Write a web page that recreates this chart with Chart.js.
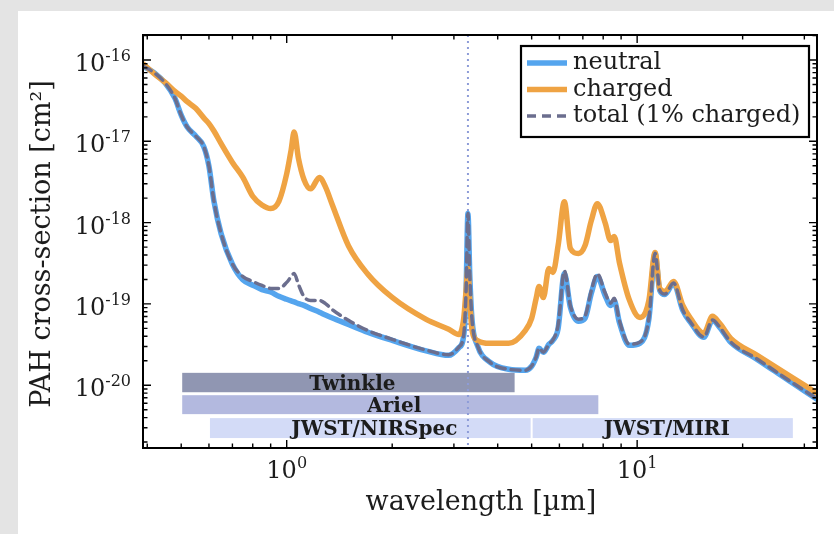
<!DOCTYPE html>
<html>
<head>
<meta charset="utf-8">
<title>PAH cross-section</title>
<script src="https://cdn.jsdelivr.net/npm/chart.js@4.4.1/dist/chart.umd.min.js"></script>
<style>
  html, body { margin: 0; padding: 0; background: #e4e4e4; }
  canvas { display: block; }
</style>
</head>
<body>
<canvas id="pahChart" width="834" height="534"></canvas>
<script>
// wavelength grid [um]
const wavelength = [
  0.39, 0.42, 0.45, 0.48, 0.50, 0.52, 0.55, 0.58, 0.60, 0.62,
  0.65, 0.70, 0.75, 0.80, 0.85, 0.90, 0.95, 1.00, 1.03, 1.05,
  1.08, 1.12, 1.17, 1.24, 1.29, 1.35, 1.5, 1.7, 2.0, 2.5,
  2.9, 3.1, 3.2, 3.25, 3.29, 3.33, 3.38, 3.5, 3.8, 4.3,
  4.8, 5.0, 5.15, 5.25, 5.4, 5.6, 5.75, 5.95, 6.2, 6.45,
  6.8, 7.1, 7.4, 7.7, 8.1, 8.4, 8.6, 8.9, 9.5, 10.2,
  10.8, 11.25, 11.6, 12.0, 12.7, 13.5, 14.2, 15.5, 16.4, 17.2,
  18.5, 22, 27, 32.6
];

// cross-sections [cm^2]
const neutral = [
  8.4e-17, 6.9e-17, 5.2e-17, 3.37e-17, 2.1e-17, 1.5e-17, 1.16e-17, 8.6e-18, 4.95e-18, 1.83e-18,
  7.3e-19, 3.08e-19, 1.98e-19, 1.7e-19, 1.5e-19, 1.4e-19, 1.24e-19, 1.14e-19, 1.09e-19, 1.06e-19,
  1.01e-19, 9.6e-20, 8.8e-20, 7.9e-20, 7.3e-20, 6.7e-20, 5.6e-20, 4.5e-20, 3.56e-20, 2.65e-20,
  2.33e-20, 2.9e-20, 4.11e-20, 1.47e-19, 1.29e-18, 2.24e-19, 6.28e-20, 3.1e-20, 1.92e-20, 1.57e-20,
  1.53e-20, 1.71e-20, 2.21e-20, 2.84e-20, 2.54e-20, 3.18e-20, 3.56e-20, 5.0e-20, 2.37e-19, 9.06e-20,
  6.1e-20, 6.64e-20, 1.35e-19, 2.17e-19, 1.27e-19, 9.59e-20, 1.1e-19, 5.9e-20, 3.1e-20, 3.3e-20,
  6.5e-20, 4.17e-19, 1.47e-19, 1.31e-19, 1.79e-19, 8.3e-20, 5.93e-20, 3.88e-20, 6.28e-20, 5.15e-20,
  3.37e-20, 2.08e-20, 1.15e-20, 6.73e-21
];

const charged = [
  8.9e-17, 6.7e-17, 5.3e-17, 4.1e-17, 3.6e-17, 3.07e-17, 2.55e-17, 1.94e-17, 1.65e-17, 1.34e-17,
  9.35e-18, 5.5e-18, 3.6e-18, 2.11e-18, 1.65e-18, 1.49e-18, 1.83e-18, 3.99e-18, 7.9e-18, 1.3e-17,
  6.2e-18, 3.4e-18, 2.6e-18, 3.6e-18, 2.75e-18, 1.65e-18, 5.2e-19, 2.35e-19, 1.2e-19, 6.45e-20,
  4.87e-20, 4.2e-20, 6.64e-20, 1.47e-19, 2.73e-19, 1.1e-19, 4.73e-20, 3.56e-20, 3.28e-20, 3.28e-20,
  4.73e-20, 6.64e-20, 1.17e-19, 1.64e-19, 1.2e-19, 2.73e-19, 2.44e-19, 5.22e-19, 1.81e-18, 4.8e-19,
  4.17e-19, 5.22e-19, 1.06e-18, 1.71e-18, 1.0e-18, 6.01e-19, 6.73e-19, 3.23e-19, 1.12e-19, 6.83e-20,
  1.1e-19, 4.29e-19, 1.55e-19, 1.42e-19, 1.89e-19, 9.59e-20, 6.64e-20, 4.35e-20, 7.03e-20, 5.77e-20,
  3.77e-20, 2.33e-20, 1.33e-20, 7.98e-21
];

const total = [
  8.4e-17, 6.9e-17, 5.2e-17, 3.37e-17, 2.1e-17, 1.5e-17, 1.16e-17, 8.6e-18, 4.95e-18, 1.83e-18,
  7.3e-19, 3.1e-19, 2.17e-19, 1.89e-19, 1.69e-19, 1.55e-19, 1.55e-19, 1.84e-19, 2.17e-19, 2.37e-19,
  1.74e-19, 1.23e-19, 1.1e-19, 1.1e-19, 1.01e-19, 8.5e-20, 6.28e-20, 4.73e-20, 3.67e-20, 2.7e-20,
  2.37e-20, 2.95e-20, 4.2e-20, 1.48e-19, 1.29e-18, 2.25e-19, 6.3e-20, 3.1e-20, 1.92e-20, 1.57e-20,
  1.53e-20, 1.72e-20, 2.22e-20, 2.86e-20, 2.55e-20, 3.2e-20, 3.6e-20, 5.5e-20, 2.55e-19, 9.5e-20,
  6.5e-20, 7.1e-20, 1.46e-19, 2.34e-19, 1.37e-19, 1.02e-19, 1.17e-19, 6.2e-20, 3.2e-20, 3.4e-20,
  6.6e-20, 4.2e-19, 1.48e-19, 1.32e-19, 1.81e-19, 8.4e-20, 6.0e-20, 3.92e-20, 6.35e-20, 5.2e-20,
  3.4e-20, 2.1e-20, 1.16e-20, 6.8e-21
];

const seriesNames = ['neutral', 'charged', 'total (1% charged)'];

// instrument coverage [um] and vertical extent [cm^2]
const bandNames = ['Twinkle', 'Ariel', 'JWST/NIRSpec', 'JWST/MIRI'];
const bandStart = [0.5, 0.5, 0.6, 5.0];
const bandEnd = [4.5, 7.8, 5.0, 28];
const bandTop = [1.42e-20, 7.54e-21, 3.94e-21, 3.94e-21];
const bandBottom = [8.2e-21, 4.41e-21, 2.24e-21, 2.24e-21];

const featureLine = 3.29; // 3.3 um band marker

const xTickValues = [1, 10];
const xTickExp = ['0', '1'];
const yTickValues = [1e-20, 1e-19, 1e-18, 1e-17, 1e-16];
const yTickExp = ['-20', '-19', '-18', '-17', '-16'];

const COLORS = {
    neutral: '#55a5ee',
    charged: '#efa343',
    total: '#6b6e8e',
    bands: ['#9096b2', '#b3b9df', '#d3dbf7', '#d3dbf7'],
    marker: '#8e9cd8',
    text: '#1c1c1c'
};
const FONT = '"DejaVu Serif", serif';

function toPoints(values) {
    return wavelength.map((w, i) => ({ x: w, y: values[i] }));
}

function drawPower(ctx, exp, px, baseline, align) {
    ctx.font = '24px ' + FONT;
    const wb = ctx.measureText('10').width;
    ctx.font = '16px ' + FONT;
    const we = ctx.measureText(exp).width;
    const x0 = align === 'right' ? px - wb - we : px - (wb + we) / 2;
    ctx.textAlign = 'left';
    ctx.textBaseline = 'alphabetic';
    ctx.font = '24px ' + FONT;
    ctx.fillText('10', x0, baseline);
    ctx.font = '16px ' + FONT;
    ctx.fillText(exp, x0 + wb, baseline - 10);
}

const figurePlugin = {
    id: 'figure',
    beforeDraw(chart) {
        const ctx = chart.ctx;
        ctx.save();
        ctx.fillStyle = '#e4e4e4';
        ctx.fillRect(0, 0, chart.width, chart.height);
        ctx.fillStyle = '#ffffff';
        ctx.fillRect(18, 11, chart.width - 18, chart.height - 11);
        ctx.restore();
    },
    beforeDatasetsDraw(chart) {
        const { ctx, chartArea: a, scales: { x, y } } = chart;
        ctx.save();
        // instrument bands
        bandNames.forEach((name, i) => {
            const x0 = x.getPixelForValue(bandStart[i]) + 1;
            const x1 = x.getPixelForValue(bandEnd[i]) - 1;
            const y0 = y.getPixelForValue(bandTop[i]);
            const y1 = y.getPixelForValue(bandBottom[i]);
            ctx.fillStyle = COLORS.bands[i];
            ctx.fillRect(x0, y0, x1 - x0, y1 - y0);
            ctx.fillStyle = COLORS.text;
            ctx.font = 'bold 20px ' + FONT;
            ctx.textAlign = 'center';
            ctx.textBaseline = 'alphabetic';
            ctx.fillText(name, (x0 + x1) / 2 + 4, (y0 + y1) / 2 + 7);
        });
        // dotted marker at 3.3 um
        const xm = x.getPixelForValue(featureLine);
        ctx.strokeStyle = COLORS.marker;
        ctx.lineWidth = 2;
        ctx.setLineDash([2, 4]);
        ctx.beginPath();
        ctx.moveTo(xm, a.top);
        ctx.lineTo(xm, a.bottom);
        ctx.stroke();
        ctx.restore();
    },
    afterDatasetsDraw(chart) {
        const { ctx, chartArea: a, scales: { x, y } } = chart;
        ctx.save();

        // inward ticks on all four sides
        ctx.strokeStyle = '#000';
        ctx.lineWidth = 1.4;
        ctx.beginPath();
        for (let e = -21; e <= -16; e++) {
            for (let m = 1; m < 10; m++) {
                const v = m * Math.pow(10, e);
                if (v < y.min || v > y.max) continue;
                const py = y.getPixelForValue(v);
                const len = m === 1 ? 8 : 4.5;
                ctx.moveTo(a.left, py); ctx.lineTo(a.left + len, py);
                ctx.moveTo(a.right, py); ctx.lineTo(a.right - len, py);
            }
        }
        for (let e = -1; e <= 1; e++) {
            for (let m = 1; m < 10; m++) {
                const v = m * Math.pow(10, e);
                if (v < x.min || v > x.max) continue;
                const px = x.getPixelForValue(v);
                const len = m === 1 ? 8 : 4.5;
                ctx.moveTo(px, a.bottom); ctx.lineTo(px, a.bottom - len);
                ctx.moveTo(px, a.top); ctx.lineTo(px, a.top + len);
            }
        }
        ctx.stroke();
        ctx.lineWidth = 2;
        ctx.strokeRect(a.left, a.top, a.right - a.left, a.bottom - a.top);

        // tick labels
        ctx.fillStyle = COLORS.text;
        yTickValues.forEach((v, i) => {
            drawPower(ctx, yTickExp[i], a.left - 12, y.getPixelForValue(v) + 11, 'right');
        });
        xTickValues.forEach((v, i) => {
            drawPower(ctx, xTickExp[i], x.getPixelForValue(v), a.bottom + 30, 'center');
        });

        // axis titles
        ctx.font = '27px ' + FONT;
        ctx.textAlign = 'center';
        ctx.textBaseline = 'middle';
        ctx.fillText('wavelength [\u00b5m]', (a.left + a.right) / 2 + 1, 503);
        ctx.save();
        ctx.translate(43, 244);
        ctx.rotate(-Math.PI / 2);
        ctx.fillText('PAH cross-section [cm\u00b2]', 0, 0);
        ctx.restore();

        // legend
        const bw = 288, bh = 91;
        const bx = a.right - 8 - bw, by = a.top + 11;
        ctx.fillStyle = '#fff';
        ctx.fillRect(bx, by, bw, bh);
        ctx.strokeStyle = '#000';
        ctx.lineWidth = 2.2;
        ctx.strokeRect(bx, by, bw, bh);
        ctx.font = '24px ' + FONT;
        ctx.textAlign = 'left';
        ctx.textBaseline = 'middle';
        chart.data.datasets.forEach((ds, i) => {
            const ry = by + 17 + i * 26.5;
            ctx.strokeStyle = ds.borderColor;
            ctx.lineWidth = ds.borderWidth;
            ctx.setLineDash(ds.borderDash || []);
            ctx.beginPath();
            ctx.moveTo(bx + 6, ry);
            ctx.lineTo(bx + 46, ry);
            ctx.stroke();
            ctx.setLineDash([]);
            ctx.fillStyle = COLORS.text;
            ctx.fillText(ds.label, bx + 52, ry);
        });
        ctx.restore();
    }
};

const ctx = document.getElementById('pahChart');

new Chart(ctx, {
    type: 'line',
    data: {
        datasets: [
            {
                label: seriesNames[0],
                data: toPoints(neutral),
                borderColor: COLORS.neutral,
                borderWidth: 5.5,
                order: 2
            },
            {
                label: seriesNames[1],
                data: toPoints(charged),
                borderColor: COLORS.charged,
                borderWidth: 5.5,
                order: 1
            },
            {
                label: seriesNames[2],
                data: toPoints(total),
                borderColor: COLORS.total,
                borderWidth: 3.5,
                borderDash: [9, 6],
                order: 0
            }
        ]
    },
    options: {
        responsive: false,
        animation: false,
        devicePixelRatio: 1,
        elements: {
            point: { radius: 0 },
            line: { cubicInterpolationMode: 'monotone', fill: false, borderCapStyle: 'round', borderJoinStyle: 'round' }
        },
        layout: {
            padding: { left: 143, right: 17, top: 35, bottom: 86 }
        },
        plugins: {
            legend: { display: false },
            tooltip: { enabled: false }
        },
        scales: {
            x: {
                type: 'logarithmic',
                min: 0.389,
                max: 32.6,
                display: false
            },
            y: {
                type: 'logarithmic',
                min: 1.69e-21,
                max: 2.03e-16,
                display: false
            }
        }
    },
    plugins: [figurePlugin]
});
</script>
</body>
</html>
